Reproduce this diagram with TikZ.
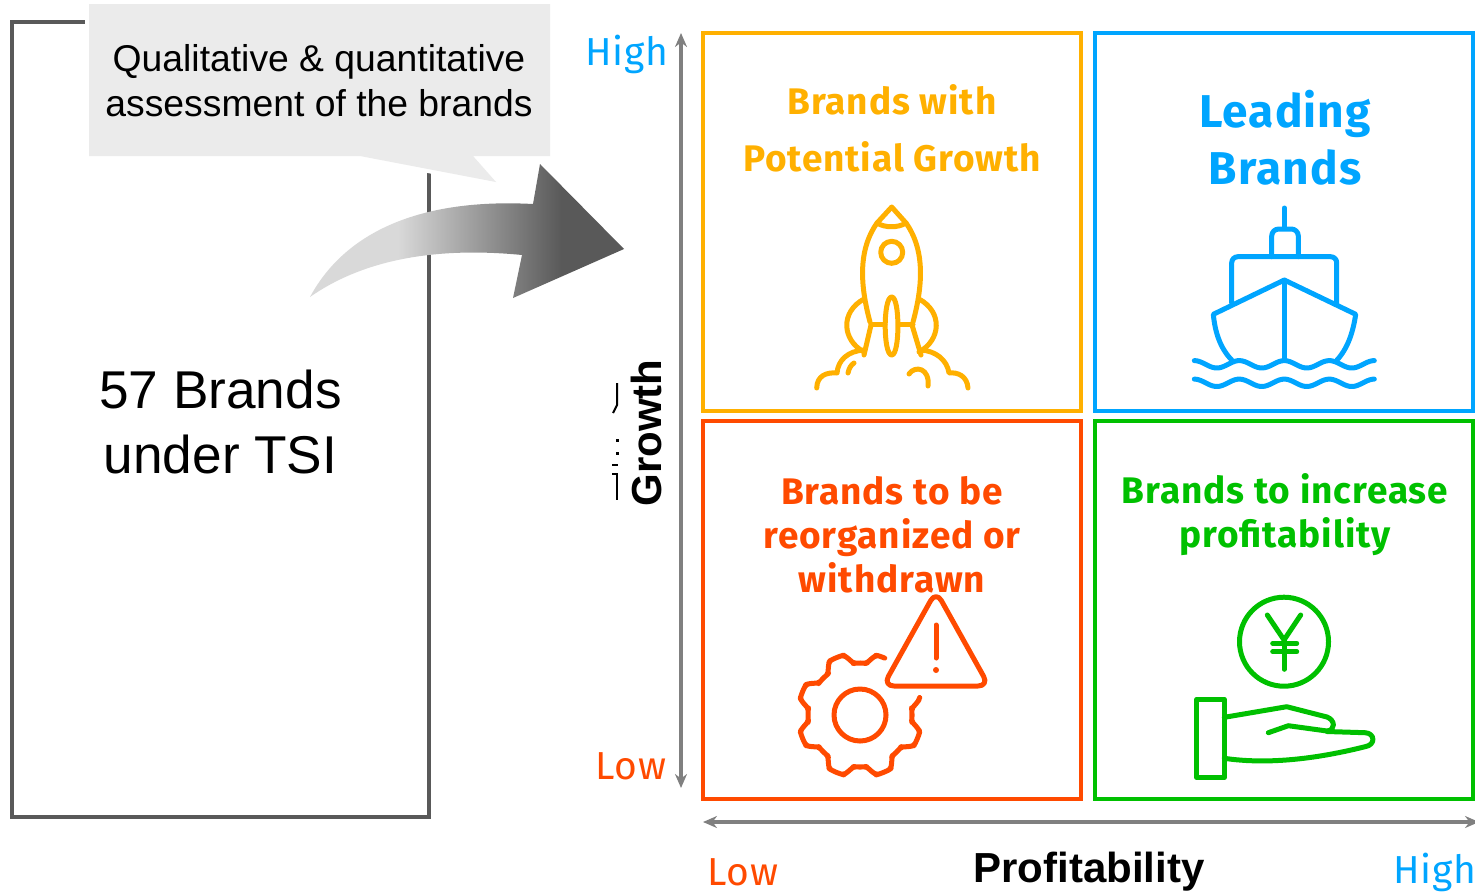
\documentclass[tikz,border=0pt]{standalone}
\usepackage{fontspec}
\setmainfont{Liberation Sans}
\newfontfamily\dinfont{Fira Sans}[LetterSpace=2.5]
\usetikzlibrary{arrows.meta}

\definecolor{brandyellow}{HTML}{FFB000}
\definecolor{brandblue}{HTML}{00A5FF}
\definecolor{brandred}{HTML}{FF4A00}
\definecolor{brandgreen}{HTML}{00C000}
\definecolor{boxgray}{HTML}{595959}
\definecolor{notegray}{HTML}{EBEBEB}

\pgfdeclarehorizontalshading{arrowfade}{100bp}{
  color(0bp)=(black!15); color(39bp)=(black!15);
  color(65bp)=(black!65); color(100bp)=(black!65)}

\begin{document}
\begin{tikzpicture}
        [x=0.5pt, y=-0.5pt,
        quad/.style={rectangle, draw, line width=2pt, minimum size=189pt, inner sep=0pt},
        axis/.style={draw=black!50, line width=2pt, {Stealth[length=7pt,width=6pt]}-{Stealth[length=7pt,width=6pt]}},
        icon/.style={line width=2.5pt, line cap=round, line join=round},
        level/.style={font=\dinfont\fontsize{19.5}{19.5}\selectfont, inner sep=0pt},
        inner sep=0pt]

        \useasboundingbox (0,0) rectangle (1475,894);
        \clip (0,0) rectangle (1475,894);

        % left box
        \node[rectangle, draw=boxgray, line width=1.8pt, minimum width=208.5pt, minimum height=397.5pt] (tsi) at (220.5,419.5) {};
        \node[align=center, font=\fontsize{26.6}{32.5}\selectfont] (tsitxt) at (220.5,421.5) {57 Brands\\under TSI};

        % note over the box
        \path[fill=notegray, preaction={draw=white, line width=4pt}]
            (89,4) -- (550,4) -- (550,156) -- (473,156) -- (496,182) -- (360,156) -- (89,156) -- cycle;
        \node[align=center, font=\fontsize{18.65}{22.5}\selectfont] (note) at (319,81)
            {Qualitative \& quantitative\\assessment of the brands};

        % big arrow
        \path[shading=arrowfade]
            (310,297) .. controls (345,232) and (420,198) .. (533,204)
            -- (540,164) -- (624,249) -- (513,298) -- (522,255)
            .. controls (430,246) and (360,262) .. (310,297) -- cycle;

        % quadrants
        \node[quad, draw=brandyellow] (potential) at (892,222) {};
        \node[quad, draw=brandblue] (leading) at (1284,222) {};
        \node[quad, draw=brandred] (reorg) at (892,610) {};
        \node[quad, draw=brandgreen] (profit) at (1284,610) {};

        % axes
        \coordinate (vtop) at (681,33);
        \coordinate (vbot) at (681,788);
        \coordinate (hleft) at (703,822);
        \coordinate (hright) at (1479,822);
        \draw[axis] (vtop) -- (vbot);
        \draw[axis] (hleft) -- (hright);

        \node[level, text=brandblue] (yhigh) at (627,54) {High};
        \node[level, text=brandred] (ylow) at (631,766) {Low};
        \node[level, text=brandred] (xlow) at (743,872) {Low};
        \node[level, text=brandblue] (xhigh) at (1435,872) {High};
        \node[font=\bfseries\fontsize{21}{21}\selectfont] (xname) at (1089,872) {Profitability};
        \node[font=\bfseries\fontsize{21}{21}\selectfont, rotate=90] (yname) at (646,433) {Growth};

        % marks beside the growth label
        \draw[black, line width=1pt] (617,383) -- (617,405) -- (613,413);
        \draw[black, line width=1.5pt] (617,439) -- (617,442) (617,452) -- (617,455);
        \draw[black, line width=1pt] (612,465) -- (618,465) (612,474) -- (618,474) (617,473) -- (617,500);

        % quadrant titles
        \node[align=center, text=brandyellow, font=\dinfont\bfseries\fontsize{18.5}{28.5}\selectfont] (potentialtxt) at (892,128) {Brands with\\Potential Growth};
        \node[align=center, text=brandblue, font=\dinfont\bfseries\fontsize{23}{28.5}\selectfont] (leadingtxt) at (1285,137.5) {Leading\\Brands};
        \node[align=center, text=brandred, font=\dinfont\bfseries\fontsize{18.5}{22}\selectfont] (reorgtxt) at (892,535) {Brands to be\\reorganized or\\withdrawn};
        \node[align=center, text=brandgreen, font=\dinfont\bfseries\fontsize{18.5}{22}\selectfont] (profittxt) at (1285,515) {Brands to increase\\profitability};

        % rocket
        \begin{scope}[icon]
            \draw[brandyellow] (870,322) .. controls (860,285) and (858,250) .. (877,223) -- (891.7,207) -- (906,223)
                .. controls (925,250) and (923,285) .. (913,322);
            \draw[brandyellow] (877,223) .. controls (885,228) and (898,228) .. (906,223);
            \draw[brandyellow] (891.7,252.3) circle (11);
            \draw[brandyellow] (871,324) -- (885,324) (898.5,324) -- (913,324);
            \draw[brandyellow] (891.7,297) .. controls (883,297) and (883,355) .. (891.7,355) .. controls (900,355) and (900,297) .. (891.7,297);
            \draw[brandyellow] (864,299) .. controls (840,312) and (842,340) .. (864,352);
            \draw[brandyellow] (871,325) -- (864,355);
            \draw[brandyellow] (919,299) .. controls (943,312) and (941,340) .. (919,352);
            \draw[brandyellow] (912,325) -- (921,355);
            \draw[brandyellow] (816.7,388) .. controls (817,376) and (826,372) .. (837,373)
                .. controls (838,360) and (848,351) .. (864,350);
            \draw[brandyellow] (848,373) .. controls (849,368) and (851,365) .. (854,363);
            \draw[brandyellow] (968,388) .. controls (967,376) and (958,372) .. (949,373)
                .. controls (947,360) and (936,351) .. (921,350);
            \draw[brandyellow] (909,374) .. controls (915,365) and (930,368) .. (928,386);
        \end{scope}

        % ship
        \begin{scope}[icon]
            \draw[brandblue] (1284.3,208) -- (1284.3,228);
            \draw[brandblue, rounded corners=3.5pt] (1271.7,256.7) -- (1271.7,229) -- (1298.3,229) -- (1298.3,256.7);
            \draw[brandblue, rounded corners=3pt] (1231.7,303) -- (1231.7,256.7) -- (1336.7,256.7) -- (1336.7,303);
            \draw[brandblue] (1231.7,360) .. controls (1220,348) and (1215,332) .. (1213.3,314.3) -- (1284.3,280) -- (1355.7,314.3)
                .. controls (1353,332) and (1348,348) .. (1337,360);
            \draw[brandblue] (1284.3,280) -- (1284.3,360);
            \foreach \wavey in {364.3,382.8}
                \draw[brandblue] plot[domain=0:4, samples=80] ({1194.3+45*\x},{\wavey-3.7*cos(360*\x)});
        \end{scope}

        % gear and warning sign
        \begin{scope}[icon]
            \draw[brandred, rounded corners=1pt] plot[domain=67:376, samples=240]
                ({860+(57+max(-5,min(5,9*cos(8*(\x-22.5)))))*cos(\x)},{715-(57+max(-5,min(5,9*cos(8*(\x-22.5)))))*sin(\x)});
            \draw[brandred] (860,715) circle (26);
            \draw[brandred, rounded corners=5.5pt] (936,591) -- (989,686) -- (883,686) -- cycle;
            \draw[brandred] (936,625) -- (936,658);
            \fill[brandred] (936,670) circle (3);
        \end{scope}

        % yen coin and hand
        \begin{scope}[icon]
            \draw[brandgreen] (1284,641.7) circle (44.5);
            \draw[brandgreen] (1267.3,615) -- (1284,640) -- (1300.7,615);
            \draw[brandgreen] (1284,640) -- (1284,669.3);
            \draw[brandgreen] (1272.7,643.3) -- (1296.7,643.3);
            \draw[brandgreen] (1272.7,651.7) -- (1296.7,651.7);
            \draw[brandgreen] (1196.7,699.3) rectangle (1224.3,777.3);
            \draw[brandgreen] (1224.3,717.3) -- (1286.7,706.7) -- (1327,717)
                .. controls (1335,720) and (1336,730) .. (1327,731) -- (1288.3,725.7) -- (1268.3,732.7);
            \draw[brandgreen] (1327,731.5) -- (1365,732.7) .. controls (1375,733) and (1376,745) .. (1365,746.7)
                .. controls (1320,758) and (1270,765) .. (1224.3,758.3);
        \end{scope}

    \end{tikzpicture}
\end{document}
